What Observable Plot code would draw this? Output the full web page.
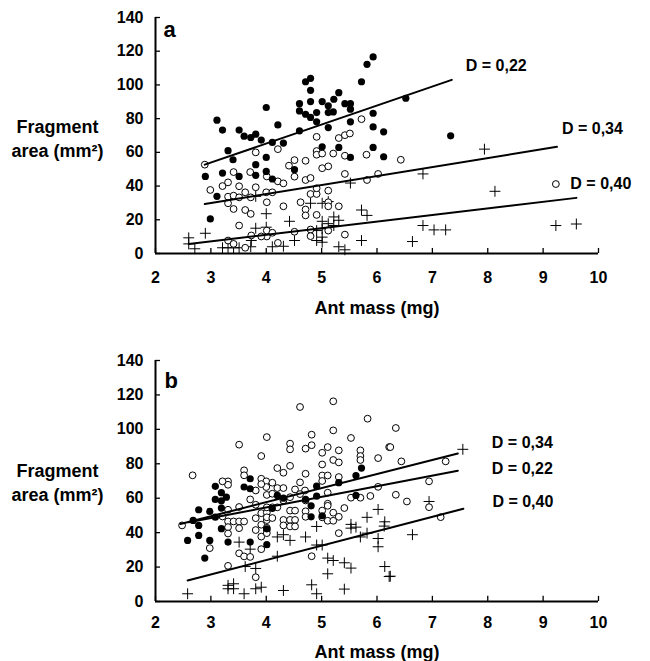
<!DOCTYPE html>
<html>
<head>
<meta charset="utf-8">
<script src="https://cdn.jsdelivr.net/npm/d3@7"></script>
<script src="https://cdn.jsdelivr.net/npm/@observablehq/plot@0.6"></script>
<style>
  body { margin: 0; background: #fff; }
  #chart { position: relative; width: 650px; height: 661px; font-family: "Liberation Sans", Arial, sans-serif; }
  #chart svg { position: absolute; left: 0; }
</style>
</head>
<body>
<div id="chart"></div>
<script>
// ---------- Data ----------
const xTicks = [2, 3, 4, 5, 6, 7, 8, 9, 10];
const yTicks = [0, 20, 40, 60, 80, 100, 120, 140];
const xTitle = "Ant mass (mg)";
const yTitle = "Fragment\narea (mm²)";

// Panel a
const aFilledX = [3.11,3.21,3.51,3.60,3.72,3.81,4.00,3.91,3.31,3.40,2.90,3.21,3.51,3.81,3.81,4.00,4.00,3.11,2.99,4.21,4.11,4.31,4.11,4.51,4.71,4.80,4.80,5.31,5.72,5.82,5.93,4.60,4.80,5.01,5.12,5.22,5.42,5.52,4.60,4.71,4.80,4.91,5.12,5.21,4.91,5.12,5.52,5.52,5.93,4.60,5.93,6.12,5.01,5.31,5.52,5.93,6.12,6.52,7.33];
const aFilledY = [79.1,73.2,73.2,69.6,68.8,70.8,86.6,67.3,61.0,55.6,45.7,47.7,45.7,52.7,46.4,57.0,48.7,33.9,20.5,76.3,65.9,65.5,44.2,49.7,101.9,103.9,96.8,95.4,101.9,112.2,116.6,88.9,90.1,90.1,87.6,91.5,88.9,88.9,84.6,82.6,80.7,83.6,83.6,84.0,78.1,74.7,85.6,78.1,83.2,72.8,75.1,72.2,63.3,62.9,57.0,62.9,57.4,92.1,69.8];
const aOpenX = [2.89,3.81,2.99,3.21,3.31,3.41,3.51,3.71,3.31,3.41,3.51,3.62,3.81,3.72,4.00,3.31,3.41,3.62,3.72,4.01,3.51,3.73,4.01,3.31,3.41,3.62,4.21,4.01,4.21,4.31,4.11,4.51,4.41,4.51,4.71,4.91,4.91,4.91,5.01,5.21,5.01,5.12,5.31,5.42,5.51,5.42,5.72,5.81,6.02,5.42,5.82,4.71,4.80,4.80,4.91,4.91,5.12,4.31,4.62,4.71,4.71,4.91,5.12,5.12,5.31,4.01,4.11,4.51,4.80,4.80,5.12,5.42,4.21,3.91,6.43,9.23];
const aOpenY = [52.7,60.0,37.7,40.0,42.2,48.3,39.9,48.3,33.7,34.3,33.3,36.3,39.3,33.3,36.3,29.8,26.4,25.8,23.5,30.4,16.6,10.7,10.1,7.7,5.7,3.4,61.9,45.7,42.8,41.6,36.3,55.4,52.1,45.6,55.0,69.2,60.8,58.6,59.3,59.3,50.6,51.7,68.5,70.2,71.2,58.0,79.7,58.6,47.2,47.2,43.6,43.6,44.8,35.3,35.3,38.7,37.3,28.0,30.4,26.1,22.6,22.9,30.4,28.0,28.0,13.6,12.3,12.9,14.2,10.3,13.6,11.2,6.3,10.1,55.6,41.2];
const aCrossX = [2.60,2.60,2.71,2.90,3.21,3.31,3.41,3.51,3.73,3.72,3.81,4.00,4.00,3.81,4.42,4.80,5.01,5.12,5.52,5.72,5.82,5.22,5.31,5.01,5.01,5.12,5.22,4.91,5.01,4.91,5.01,4.51,4.11,4.31,5.31,5.42,5.72,7.94,6.83,8.13,6.83,7.03,7.24,6.64,9.23,9.60];
const aCrossY = [9.3,5.7,2.8,12.0,3.4,3.4,3.4,3.4,7.7,4.0,15.0,15.6,23.6,33.9,19.1,29.8,29.8,30.8,41.8,25.8,22.6,21.7,19.7,19.1,14.6,17.7,16.6,13.6,9.7,7.7,6.7,7.7,4.0,4.3,4.0,2.2,7.7,61.9,47.2,36.9,16.6,14.0,14.0,7.1,16.6,17.5];
// regression lines (start, end) for filled / open / cross
const aLineFilledX = [2.89, 7.35], aLineFilledY = [52.7, 103];
const aLineOpenX = [2.89, 9.25],   aLineOpenY = [29.3, 63.3];
const aLineCrossX = [2.60, 9.60],  aLineCrossY = [5.7, 33.0];
const aLabels = ["D = 0,22", "D = 0,34", "D = 0,40"];

// Panel b
const bFilledX = [3.08,3.19,3.08,3.19,3.28,3.19,2.98,2.78,2.68,2.78,3.08,2.58,2.78,2.98,2.89,3.19,3.31,3.71,3.60,3.71,3.71,4.01,5.72,5.62,5.31,4.91,4.20,4.31,4.71,4.91,5.62,4.81,4.11,5.01,4.81,4.01];
const bFilledY = [66.9,63.2,59.3,58.5,60.6,54.3,52.3,53.3,47.1,44.2,49.0,35.5,38.4,35.5,25.2,42.3,34.5,71.3,66.5,65.5,34.5,33.0,77.5,73.2,69.0,67.0,61.6,60.0,59.3,61.2,61.6,55.6,54.1,49.8,49.2,42.2];
const bOpenX = [2.67,2.48,2.98,3.31,3.31,3.21,3.51,3.91,4.01,3.60,3.60,3.91,4.00,4.00,3.81,3.91,3.71,3.81,3.51,3.31,3.21,3.31,3.31,3.41,3.51,3.60,3.51,3.31,3.81,3.91,4.01,3.91,4.01,4.01,3.81,3.91,3.91,3.51,3.60,3.71,3.31,3.81,
  5.21,4.61,5.83,4.82,5.21,5.53,4.43,4.43,4.71,4.82,5.01,5.11,5.31,5.70,5.70,5.70,6.02,6.22,5.21,5.31,5.01,4.20,4.31,4.43,4.71,5.01,5.11,5.31,5.01,4.61,4.20,4.31,4.11,4.52,4.70,5.11,5.53,5.70,5.88,6.02,4.01,4.11,4.31,4.43,4.61,4.71,5.11,4.01,4.11,4.20,4.43,4.52,4.71,5.01,5.11,5.41,5.21,5.31,4.01,4.11,4.31,4.43,4.52,4.71,5.01,5.11,5.21,4.31,4.43,4.52,4.01,4.01,5.31,4.82,
  6.34,6.24,6.44,7.24,6.94,6.34,6.54,6.94,7.15];
const bOpenY = [73.3,44.2,31.0,69.8,67.8,69.8,91.1,84.5,95.5,76.2,73.3,71.3,69.8,66.5,64.5,68.2,59.3,56.2,54.9,53.3,49.4,46.5,43.2,46.5,46.5,46.5,42.6,39.5,48.4,51.3,51.7,44.6,47.3,41.5,41.5,37.7,30.4,28.0,26.2,25.9,20.7,14.1,
  116.3,113.0,106.2,96.9,99.4,95.0,91.7,88.4,88.8,90.8,86.4,89.7,87.8,87.8,84.5,82.2,83.3,89.7,82.2,80.8,79.6,77.5,74.8,78.8,74.2,73.2,73.2,72.3,70.0,69.2,65.9,65.9,69.0,65.1,64.5,63.2,60.3,60.3,61.3,66.6,61.9,62.6,58.7,60.6,62.4,58.7,56.8,54.7,54.7,54.7,52.8,52.8,52.4,52.8,55.6,54.3,51.6,49.2,48.9,48.5,47.4,47.4,47.4,49.2,48.9,46.9,46.9,44.2,43.6,43.6,42.8,39.7,39.7,26.3,
  100.8,89.7,81.4,81.4,69.8,62.0,58.1,54.8,49.0];
const bCrossX = [2.58,3.31,3.41,3.41,3.31,3.51,3.71,3.81,3.81,3.91,3.60,3.62,6.02,6.14,5.82,5.53,5.62,5.53,5.82,5.70,6.02,6.02,4.71,4.20,4.31,4.43,4.91,5.01,4.91,4.20,5.11,5.21,5.41,5.53,5.11,6.14,6.22,4.82,4.91,5.41,4.31,7.55,6.94,6.13,6.64,6.24];
const bCrossY = [4.5,7.4,7.4,10.3,9.4,34.5,30.4,19.2,7.4,8.3,4.5,20.3,53.5,46.3,48.9,44.8,43.2,42.6,39.7,37.5,36.6,31.8,37.5,37.5,38.8,35.5,32.8,32.8,43.6,26.3,25.2,23.8,22.5,19.4,16.1,20.3,14.5,9.7,4.5,7.2,6.4,88.4,58.1,43.8,38.8,14.7];
const bLineOpenX = [2.45, 7.46],   bLineOpenY = [45.0, 86.0];
const bLineFilledX = [2.60, 7.46], bLineFilledY = [46.0, 76.0];
const bLineCrossX = [2.58, 7.56],  bLineCrossY = [12.2, 53.9];
const bLabels = ["D = 0,34", "D = 0,22", "D = 0,40"];

// ---------- helpers ----------
const pts = (xs, ys) => xs.map((x, i) => ({x, y: ys[i]}));
const FONT = '"Liberation Sans", Arial, Helvetica, sans-serif';

function panel({top, height, mTop, mBottom, letter, letterDy, letterDx, xLabelDy, titleDy, tickDy,
                filled, open, cross, lines, labels}) {
  const lineData = lines.flatMap((l, k) => pts(l.x, l.y).map(p => ({...p, k})));
  const ends = lines.map((l, k) => ({x: l.x[1], y: l.y[1], label: labels[k], dx: l.dx, dy: l.dy}));
  const svg = Plot.plot({
    width: 650, height,
    marginLeft: 155, marginRight: 52, marginTop: mTop, marginBottom: mBottom,
    x: {domain: [2, 10], axis: null},
    y: {domain: [0, 140], axis: null},
    style: {fontFamily: FONT, fontWeight: "bold", background: "white", color: "black", overflow: "visible"},
    marks: [
      Plot.ruleX([2], {stroke: "black", strokeWidth: 2}),
      Plot.ruleY([0], {stroke: "black", strokeWidth: 2}),
      Plot.ruleY(yTicks, {y: d => d, x1: 2, x2: 2.09, stroke: "black", strokeWidth: 1.3}),
      Plot.ruleX(xTicks, {x: d => d, y1: 0, y2: 3, stroke: "black", strokeWidth: 1.3}),
      Plot.text(yTicks, {y: d => d, frameAnchor: "left", dx: -12, textAnchor: "end", lineAnchor: "middle", fontSize: 16, fontWeight: "bold"}),
      Plot.text(xTicks, {x: d => d, frameAnchor: "bottom", dy: tickDy, lineAnchor: "middle", fontSize: 16, fontWeight: "bold"}),
      Plot.text([xTitle], {frameAnchor: "bottom", dy: xLabelDy, lineAnchor: "middle", fontSize: 18, fontWeight: "bold"}),
      Plot.text([yTitle], {frameAnchor: "left", dx: -98, dy: titleDy, textAnchor: "middle", lineAnchor: "middle", lineHeight: 1.35, fontSize: 18, fontWeight: "bold"}),
      Plot.text([letter], {frameAnchor: "top-left", dx: letterDx, dy: letterDy, textAnchor: "start", lineAnchor: "middle", fontSize: 22, fontWeight: "bold"}),
      Plot.dot(pts(cross.x, cross.y), {x: "x", y: "y", symbol: "plus", r: 3.6, stroke: "black", strokeWidth: 1}),
      Plot.dot(pts(open.x, open.y), {x: "x", y: "y", r: 3.4, stroke: "black", fill: "white", strokeWidth: 1}),
      Plot.dot(pts(filled.x, filled.y), {x: "x", y: "y", r: 3.6, fill: "black"}),
      Plot.line(lineData, {x: "x", y: "y", z: "k", stroke: "black", strokeWidth: 2}),
      ...ends.map(e => Plot.text([e], {x: "x", y: "y", text: "label", dx: e.dx, dy: e.dy, textAnchor: "start", lineAnchor: "middle", fontSize: 16, fontWeight: "bold"}))
    ]
  });
  svg.style.top = top + "px";
  return svg;
}

const chart = document.getElementById("chart");
chart.appendChild(panel({
  top: 0, height: 330, mTop: 17, mBottom: 77, letter: "a", letterDx: 8, letterDy: 12,
  xLabelDy: 55, titleDy: 2, tickDy: 24,
  filled: {x: aFilledX, y: aFilledY}, open: {x: aOpenX, y: aOpenY}, cross: {x: aCrossX, y: aCrossY},
  lines: [
    {x: aLineFilledX, y: aLineFilledY, dx: 14, dy: -14},
    {x: aLineOpenX, y: aLineOpenY, dx: 5, dy: -18},
    {x: aLineCrossX, y: aLineCrossY, dx: -6, dy: -14}
  ],
  labels: aLabels
}));
chart.appendChild(panel({
  top: 330, height: 331, mTop: 30, mBottom: 60, letter: "b", letterDx: 9, letterDy: 20,
  xLabelDy: 51, titleDy: 0, tickDy: 21,
  filled: {x: bFilledX, y: bFilledY}, open: {x: bOpenX, y: bOpenY}, cross: {x: bCrossX, y: bCrossY},
  lines: [
    {x: bLineOpenX, y: bLineOpenY, dx: 34, dy: -11},
    {x: bLineFilledX, y: bLineFilledY, dx: 34, dy: -2},
    {x: bLineCrossX, y: bLineCrossY, dx: 29, dy: -7}
  ],
  labels: bLabels
}));
</script>
</body>
</html>
